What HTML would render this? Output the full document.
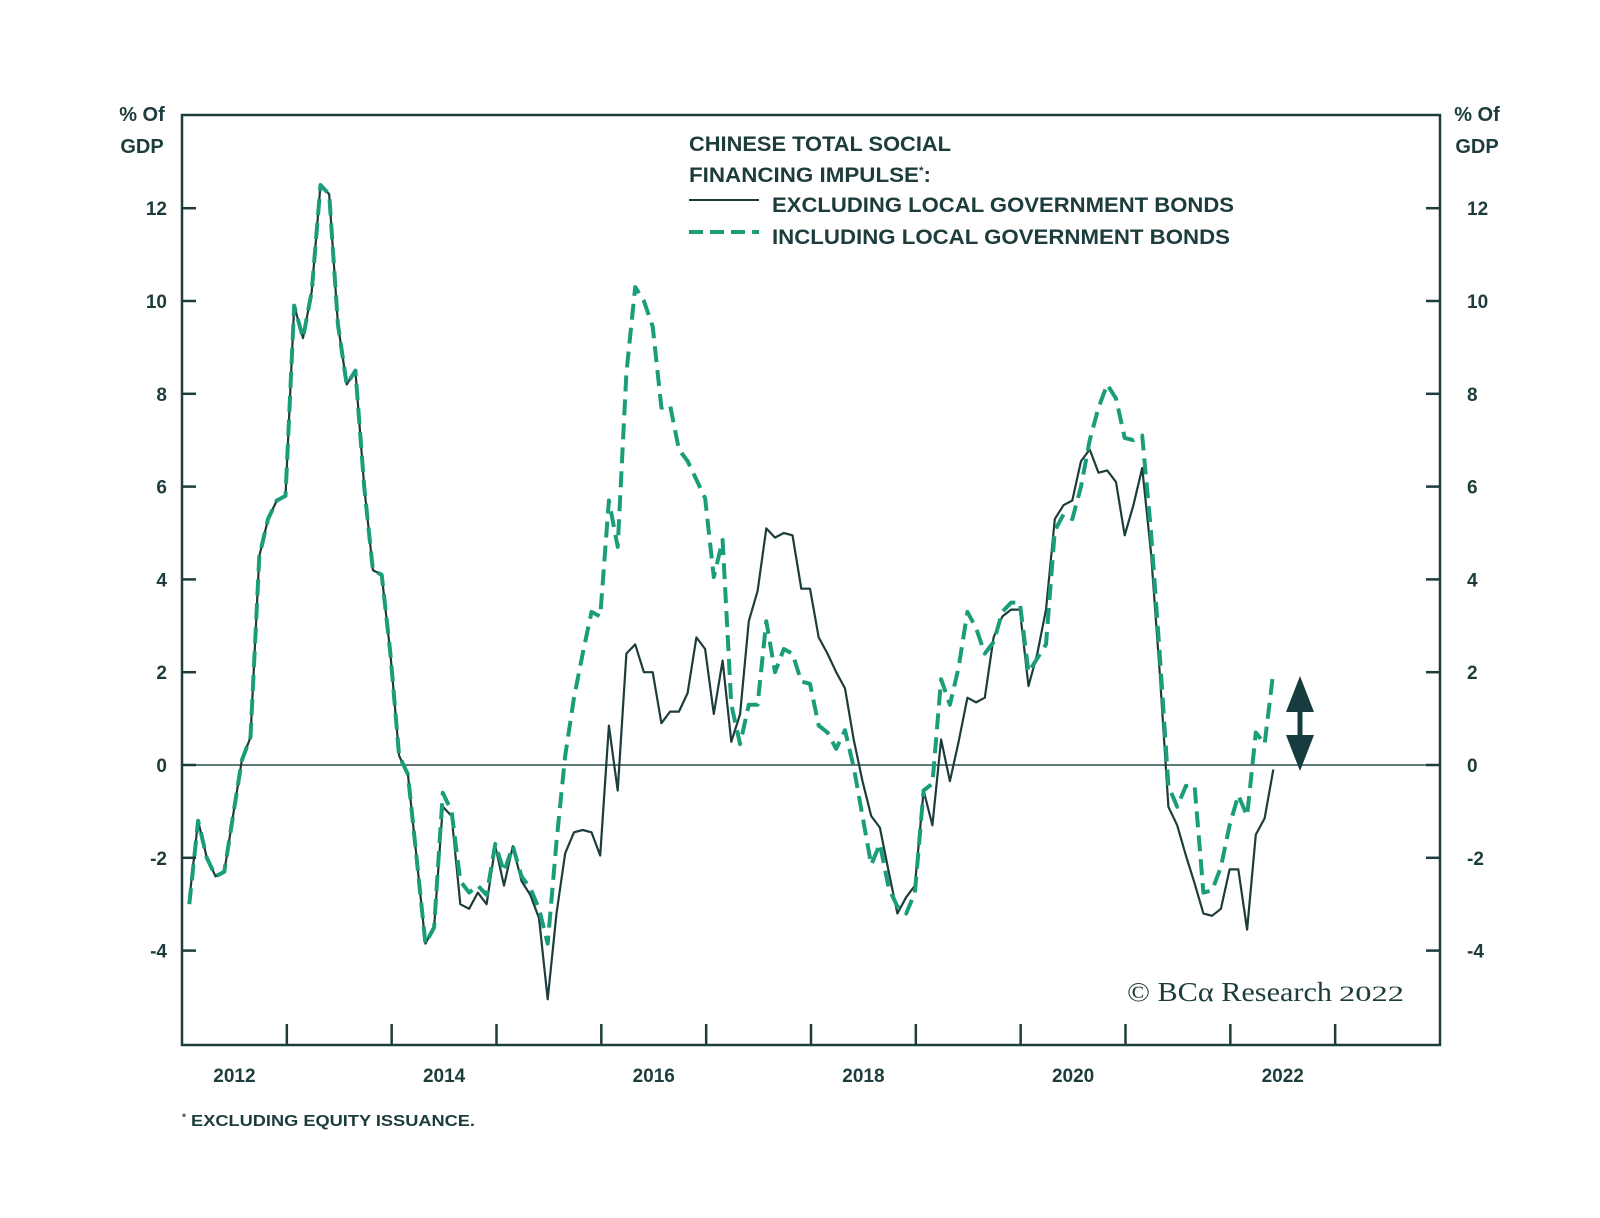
<!DOCTYPE html>
<html><head><meta charset="utf-8"><style>
html,body{margin:0;padding:0;background:#fff;}
svg{display:block;font-family:"Liberation Sans",sans-serif;}
</style></head><body>
<svg id="chart" width="1600" height="1218" viewBox="0 0 1600 1218" xmlns="http://www.w3.org/2000/svg">
<g id="axes"></g>
<g id="series"></g>
<g fill="#1d3c3c" font-weight="bold" font-size="21">
<text x="689" y="151" textLength="262" lengthAdjust="spacingAndGlyphs">CHINESE TOTAL SOCIAL</text>
<text x="689" y="182" textLength="242" lengthAdjust="spacingAndGlyphs">FINANCING IMPULSE<tspan font-size="11" dy="-8">*</tspan><tspan dy="8">:</tspan></text>
<line x1="689" y1="200" x2="759" y2="200" stroke="#1d3c3c" stroke-width="2"/>
<text x="772" y="212" textLength="462" lengthAdjust="spacingAndGlyphs">EXCLUDING LOCAL GOVERNMENT BONDS</text>
<line x1="689" y1="232" x2="759" y2="232" stroke="#1a9e7a" stroke-width="4" stroke-dasharray="14,7"/>
<text x="772" y="244" textLength="458" lengthAdjust="spacingAndGlyphs">INCLUDING LOCAL GOVERNMENT BONDS</text>
</g>
<g fill="#1d3c3c" font-family="'Liberation Serif',serif">
<text x="1127" y="1001" font-size="27" textLength="205" lengthAdjust="spacingAndGlyphs">© BCα Research</text>
<text x="1339" y="1001" font-size="22" textLength="65" lengthAdjust="spacingAndGlyphs">2022</text>
</g>
<text x="182" y="1126" fill="#1d3c3c" font-weight="bold" font-size="16" textLength="293" lengthAdjust="spacingAndGlyphs"><tspan font-size="9" dy="-6">*</tspan><tspan dy="6"> EXCLUDING EQUITY ISSUANCE.</tspan></text>
<g fill="#163c40" stroke="#163c40">
<line x1="1300" y1="700" x2="1300" y2="745" stroke-width="5"/>
<polygon points="1300,676 1286,712 1314,712" stroke="none"/>
<polygon points="1300,771 1286,735 1314,735" stroke="none"/>
</g>
</svg>
<script>
const yTicks = [12, 10, 8, 6, 4, 2, 0, -2, -4];
const xYearLabels = ["2012", "2014", "2016", "2018", "2020", "2022"];
const xLabelYears = [2012, 2014, 2016, 2018, 2020, 2022];
const xTickYears = [2013,2014,2015,2016,2017,2018,2019,2020,2021,2022,2023];
const seriesStart = 2012.07;
const seriesEnd = 2022.41;
const excludingLGB = [-2.9,-1.2,-2.0,-2.4,-2.3,-1.1,0.1,0.6,4.5,5.3,5.7,5.8,9.9,9.2,10.2,12.5,12.3,9.5,8.2,8.5,6.0,4.2,4.1,2.4,0.2,-0.2,-2.0,-3.85,-3.5,-0.9,-1.1,-3.0,-3.1,-2.75,-3.0,-1.75,-2.6,-1.75,-2.5,-2.8,-3.3,-5.05,-3.2,-1.9,-1.45,-1.4,-1.45,-1.95,0.85,-0.55,2.4,2.6,2.0,2.0,0.9,1.15,1.15,1.55,2.75,2.5,1.1,2.25,0.5,1.1,3.1,3.75,5.1,4.9,5.0,4.95,3.8,3.8,2.75,2.4,2.0,1.65,0.55,-0.35,-1.1,-1.35,-2.3,-3.2,-2.85,-2.6,-0.55,-1.3,0.55,-0.35,0.5,1.45,1.35,1.45,2.75,3.2,3.35,3.35,1.7,2.4,3.35,5.3,5.6,5.7,6.55,6.8,6.3,6.35,6.1,4.95,5.6,6.4,4.6,2.0,-0.9,-1.3,-1.95,-2.55,-3.2,-3.25,-3.1,-2.25,-2.25,-3.55,-1.5,-1.15,-0.1];
const includingLGB = [-3.0,-1.2,-2.0,-2.4,-2.3,-1.1,0.1,0.6,4.5,5.3,5.7,5.8,9.9,9.2,10.2,12.5,12.3,9.5,8.2,8.5,6.0,4.2,4.1,2.4,0.2,-0.2,-2.0,-3.85,-3.5,-0.6,-1.0,-2.5,-2.75,-2.6,-2.8,-1.7,-2.3,-1.75,-2.4,-2.65,-3.1,-3.85,-1.65,0.2,1.45,2.4,3.3,3.2,5.7,4.7,8.45,10.3,10.0,9.45,7.7,7.75,6.8,6.55,6.15,5.75,4.05,4.85,1.3,0.45,1.3,1.3,3.1,2.0,2.5,2.4,1.8,1.75,0.85,0.7,0.35,0.75,-0.05,-1.1,-2.15,-1.7,-2.65,-3.05,-3.2,-2.75,-0.55,-0.4,1.85,1.3,2.1,3.3,2.95,2.4,2.65,3.3,3.5,3.5,2.0,2.3,2.6,5.05,5.4,5.3,6.0,7.0,7.7,8.2,7.9,7.05,7.0,7.1,5.05,2.4,-0.45,-0.9,-0.45,-0.45,-2.75,-2.7,-2.2,-1.3,-0.65,-1.1,0.7,0.45,2.0];

const NS = "http://www.w3.org/2000/svg";
const L = 182, R = 1440, T = 115, B = 1045;
const X0 = 2012, X1 = 2024;
const Y0 = 765, PPU = 46.4;
const DARK = "#1d3c3c", GREEN = "#1a9e7a";
function xs(t){ return L + (t - X0) / (X1 - X0) * (R - L); }
function ys(v){ return Y0 - v * PPU; }
function mk(tag, attrs, parent){
  const e = document.createElementNS(NS, tag);
  for (const k in attrs) e.setAttribute(k, attrs[k]);
  parent.appendChild(e);
  return e;
}
const axes = document.getElementById("axes");
const series = document.getElementById("series");

const frame = mk("rect", {x:L, y:T, width:R-L, height:B-T, fill:"none", stroke:DARK, "stroke-width":2.5}, axes);



const zero = mk("line", {x1:L, x2:R, y1:ys(0), y2:ys(0), stroke:"#4a6464", "stroke-width":1.8}, axes);



yTicks.forEach(v => {
  const y = ys(v);
  const tl = mk("line", {x1:L, x2:L+14, y1:y, y2:y, stroke:DARK, "stroke-width":2.5}, axes);
  
  
  const tr = mk("line", {x1:R-14, x2:R, y1:y, y2:y, stroke:DARK, "stroke-width":2.5}, axes);
  
  
  const a = mk("text", {x:167, y:y+7, "text-anchor":"end", fill:DARK, "font-size":19, "font-weight":"bold"}, axes);
  a.textContent = String(v);
  
  
  const b = mk("text", {x:R+27, y:y+7, "text-anchor":"start", fill:DARK, "font-size":19, "font-weight":"bold"}, axes);
  b.textContent = String(v);
  
  
});

xTickYears.forEach(yr => {
  const t = mk("line", {x1:xs(yr), x2:xs(yr), y1:B, y2:B-21, stroke:DARK, "stroke-width":2.5}, axes);
  
  
});
xLabelYears.forEach((yr, i) => {
  const t = mk("text", {x:xs(yr + 0.5), y:1082, "text-anchor":"middle", fill:DARK, "font-size":19, "font-weight":"bold"}, axes);
  t.textContent = xYearLabels[i];
  
  
});

[["y-axis-title-left", 142], ["y-axis-title-right", 1477]].forEach(([nm, cx]) => {
  const g = mk("text", {x:cx, y:121, "text-anchor":"middle", fill:DARK, "font-size":20, "font-weight":"bold"}, axes);
  g.textContent = "% Of";
  
  
  const h = mk("text", {x:cx, y:153, "text-anchor":"middle", fill:DARK, "font-size":20, "font-weight":"bold"}, axes);
  h.textContent = "GDP";
  
  
});

function pathFor(vals){
  const n = vals.length;
  return vals.map((v, i) => {
    const t = seriesStart + (seriesEnd - seriesStart) * i / (n - 1);
    return (i ? "L" : "M") + xs(t).toFixed(1) + "," + ys(v).toFixed(1);
  }).join(" ");
}
const pe = mk("path", {d:pathFor(excludingLGB), fill:"none", stroke:DARK, "stroke-width":2.2, "stroke-linejoin":"round"}, series);


const pi = mk("path", {d:pathFor(includingLGB), fill:"none", stroke:GREEN, "stroke-width":4, "stroke-dasharray":"16,8", "stroke-linejoin":"round"}, series);


</script>
</body></html>
